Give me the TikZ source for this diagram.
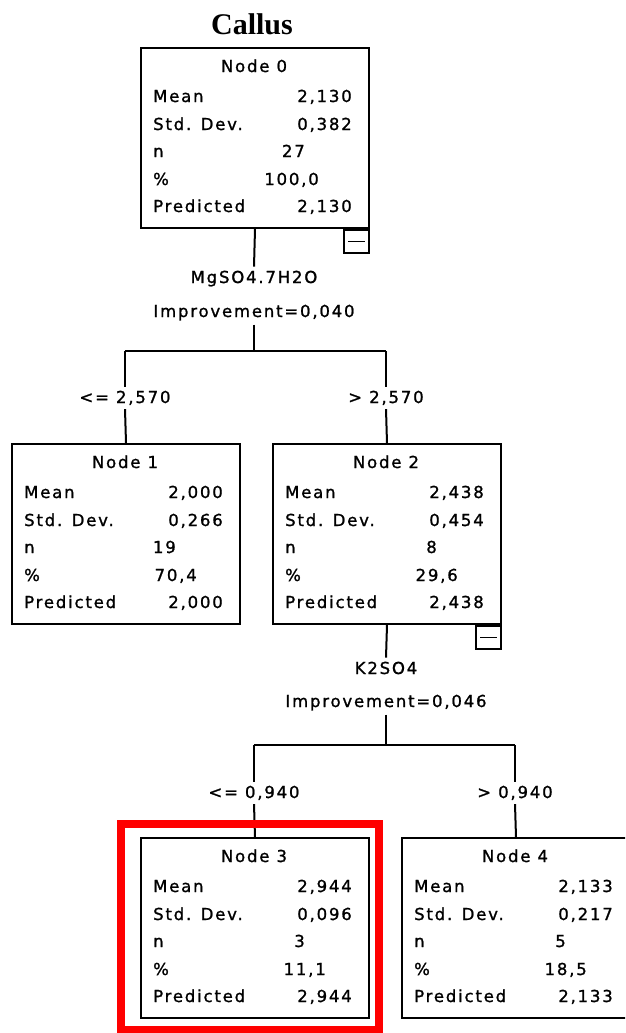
\documentclass[tikz,border=0pt]{standalone}
\usepackage{fontspec}
\setmainfont{DejaVu Sans}
\newfontfamily\spssfont[LetterSpace=11,FakeBold=1.2]{DejaVu Sans}
\newfontfamily\titlefont{Liberation Serif}
\usetikzlibrary{positioning,calc}

\tikzset{
  treebox/.style={draw, line width=2pt, minimum width=228pt, minimum height=180pt, inner sep=0pt},
  minusbox/.style={draw, line width=1.6pt, minimum width=25pt, minimum height=23pt, inner sep=0pt, anchor=north east},
  rowtext/.style={inner sep=0pt, font=\spssfont\fontsize{16.5}{19}\selectfont},
  edgelabel/.style={rowtext, fill=white, inner sep=4pt, anchor=base},
  link/.style={line width=2pt},
}

% box of one tree node: name, top left, title, mean, sd, n, pct, predicted, x of pct
\newcommand{\statnode}[9]{%
  \node[treebox, anchor=north west] (#1) at (#2) {};
  \begin{scope}[shift={(#2)}]
    \node[rowtext, anchor=base] (#1-title) at (114,25) {#3};
    \node[rowtext, anchor=base west] (#1-l1) at (13,55) {Mean};
    \node[rowtext, anchor=base west] (#1-l2) at (13,83) {Std. Dev.};
    \node[rowtext, anchor=base west] (#1-l3) at (13,110) {n};
    \node[rowtext, anchor=base west] (#1-l4) at (13,138) {\%};
    \node[rowtext, anchor=base west] (#1-l5) at (13,165) {Predicted};
    \node[rowtext, anchor=base east] (#1-v1) at (212,55) {#4};
    \node[rowtext, anchor=base east] (#1-v2) at (212,83) {#5};
    \node[rowtext, anchor=base east] (#1-v3) at (165,110) {#6};
    \node[rowtext, anchor=base east] (#1-v4) at (#9,138) {#7};
    \node[rowtext, anchor=base east] (#1-v5) at (212,165) {#8};
  \end{scope}
}

\begin{document}
\begin{tikzpicture}[x=1pt,y=-1pt]
\useasboundingbox (0,0) rectangle (625,1033);
\clip (0,0) rectangle (625,1033);

% title
\node[inner sep=0pt, anchor=base, font=\titlefont\bfseries\fontsize{30}{34}\selectfont] (title) at (252,35) {Callus};

% tree nodes
\statnode{n0}{140,47}{Node 0}{2,130}{0,382}{27}{100,0}{2,130}{179}
\statnode{n1}{11,443}{Node 1}{2,000}{0,266}{19}{70,4}{2,000}{186}
\statnode{n2}{272,443}{Node 2}{2,438}{0,454}{8}{29,6}{2,438}{186}
\statnode{n3}{140,837}{Node 3}{2,944}{0,096}{3}{11,1}{2,944}{186}
\statnode{n4}{401,837}{Node 4}{2,133}{0,217}{5}{18,5}{2,133}{186}

% collapse boxes
\node[minusbox] (m0) at (n0.south east) {\rule{17pt}{1.6pt}};
\node[minusbox] (m2) at (n2.south east) {\rule{17pt}{1.6pt}};

% first split
\node[edgelabel] (s0a) at (254,283) {MgSO4.7H2O};
\node[edgelabel] (s0b) at (254,317) {Improvement=0,040};
\coordinate (c0) at (254,351);
\coordinate (c0l) at (125,351);
\coordinate (c0r) at (386,351);
\node[edgelabel] (e1) at (125,403) {<= 2,570};
\node[edgelabel] (e2) at (386,403) {> 2,570};
\draw[link] (n0.south) -- (s0a.north);
\draw[link] (s0b.south) -- (c0);
\draw[link] (c0l) -- (c0r);
\draw[link] (c0l) -- (e1.north);
\draw[link] (e1.south) -- (n1.north);
\draw[link] (c0r) -- (e2.north);
\draw[link] (e2.south) -- (n2.north);

% second split
\node[edgelabel] (s1a) at (386,674) {K2SO4};
\node[edgelabel] (s1b) at (386,707) {Improvement=0,046};
\coordinate (c1) at (386,745);
\coordinate (c1l) at (254,745);
\coordinate (c1r) at (515,745);
\node[edgelabel] (e3) at (254,798) {<= 0,940};
\node[edgelabel] (e4) at (515,798) {> 0,940};
\draw[link] (n2.south) -- (s1a.north);
\draw[link] (s1b.south) -- (c1);
\draw[link] (c1l) -- (c1r);
\draw[link] (c1l) -- (e3.north);
\draw[link] (e3.south) -- (n3.north);
\draw[link] (c1r) -- (e4.north);
\draw[link] (e4.south) -- (n4.north);

% highlight
\draw[red, line width=8pt] ($(n3.north west)+(-19,-13)$) rectangle ($(n3.south east)+(9,11)$);
\end{tikzpicture}
\end{document}
